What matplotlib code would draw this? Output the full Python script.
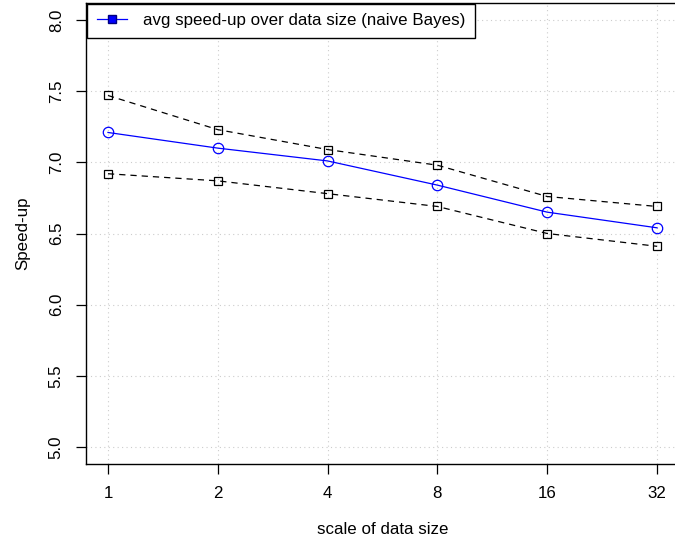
from matplotlib import pyplot as plt
import numpy as np

plt.rcParams['font.family'] = ['Liberation Sans', 'DejaVu Sans']

scales = [1, 2, 4, 8, 16, 32]
scale_labels = ['1', '2', '4', '8', '16', '32']
upper = [7.47, 7.23, 7.09, 6.98, 6.76, 6.69]
mean_speedup = [7.21, 7.10, 7.01, 6.84, 6.65, 6.54]
lower = [6.92, 6.87, 6.78, 6.69, 6.50, 6.41]
y_ticks = [5.0, 5.5, 6.0, 6.5, 7.0, 7.5, 8.0]


def main():
    fig = plt.figure(figsize=(6.75, 5.41), dpi=100)
    ax = fig.add_axes([86 / 675, 77 / 541, 593 / 675, 461 / 541])
    x = np.log2(scales)
    fs = 12.2

    ax.plot(x, upper, color='black', linestyle=(0, (5, 4)), linewidth=0.9,
            marker='s', markersize=6, markerfacecolor='none', markeredgewidth=0.9)
    ax.plot(x, lower, color='black', linestyle=(0, (5, 4)), linewidth=0.9,
            marker='s', markersize=6, markerfacecolor='none', markeredgewidth=0.9)
    ax.plot(x, mean_speedup, color='blue', linewidth=0.9,
            marker='o', markersize=7.5, markerfacecolor='none', markeredgewidth=0.9)

    ax.set_xlim(-0.2, 5.2)
    ax.set_ylim(4.88, 8.12)
    ax.set_xticks(x)
    ax.set_xticklabels(scale_labels, fontsize=fs)
    ax.set_yticks(y_ticks)
    ax.set_yticklabels(['%.1f' % v for v in y_ticks], fontsize=fs,
                       rotation=90, va='center')
    ax.tick_params(direction='out', length=7, width=0.9, pad=9)
    ax.grid(True, color='#cccccc', linestyle=(0, (1, 3)), linewidth=0.8)
    for s in ax.spines.values():
        s.set_linewidth(1.0)

    ax.set_xlabel('scale of data size', fontsize=fs, labelpad=15)
    ax.set_ylabel('Speed-up', fontsize=fs, labelpad=13)

    handle = plt.Line2D([], [], color='blue', linewidth=0.9, marker='s',
                        markersize=5.5, markerfacecolor='blue',
                        markeredgecolor='#000080')
    leg = ax.legend([handle], ['avg speed-up over data size (naive Bayes)'],
                    loc='upper left', fontsize=fs, fancybox=False,
                    framealpha=1, edgecolor='black', borderaxespad=0.0,
                    bbox_to_anchor=(0.002, 0.998), handlelength=1.8,
                    handletextpad=0.95, borderpad=0.55)
    leg.get_frame().set_linewidth(1.0)

    fig.savefig('out.png', dpi=100)


if __name__ == "__main__":
    main()
